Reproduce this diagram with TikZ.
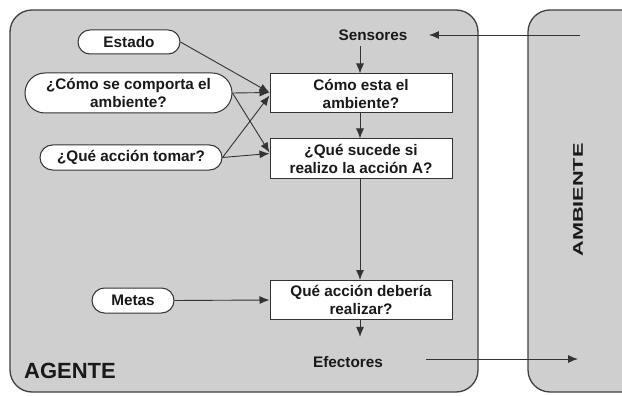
\documentclass[tikz,border=0pt]{standalone}
\usepackage{fontspec}
\setmainfont{Liberation Sans}
\usetikzlibrary{arrows.meta,shapes.misc}
\begin{document}
\begin{tikzpicture}[x=1pt,y=-1pt,
  panel/.style={draw=black!75, line width=1.3pt, fill=black!19, rounded corners=22pt},
  txt/.style={font=\bfseries\fontsize{15.3}{18}\selectfont, text=black!90},
  procbox/.style={txt, draw=black!80, line width=1pt, fill=white, minimum width=182pt, minimum height=39pt, inner sep=0pt, align=center},
  oval/.style={txt, rounded rectangle, draw=black!80, line width=1pt, fill=white, inner sep=0pt, align=center},
  conn/.style={draw=black!80, line width=0.9pt, -{Latex[length=10pt,width=8pt]}},
]
\useasboundingbox (0,0) rectangle (622,396);
\clip (0,0) rectangle (622,396);
\fill[white] (0,0) rectangle (622,396);
\draw[panel] (10,10) rectangle (478,392);
\draw[panel] (528,10) rectangle (680,392);

\node[font=\bfseries\fontsize{22}{24}\selectfont, text=black!90] (agente) at (70,371) {AGENTE};
\node[font=\bfseries\fontsize{14}{16}\selectfont, text=black!90, rotate=90] (amb) at (578,200) {\scalebox{1.55}[1]{AMBIENTE}};

\node[txt] (sens) at (373,35) {Sensores};
\node[procbox] (box1) at (361,93.5) {Cómo esta el\\ambiente?};
\node[procbox] (box2) at (361,158.5) {¿Qué sucede si\\realizo la acción A?};
\node[procbox] (box3) at (361,300) {Qué acción debería\\realizar?};
\node[txt] (eff) at (348,362) {Efectores};

\node[oval, minimum width=102pt, minimum height=24pt] (estado) at (129,42) {Estado};
\node[oval, minimum width=207pt, minimum height=40pt] (comp) at (128.5,93) {¿Cómo se comporta el\\ambiente?};
\node[oval, minimum width=182pt, minimum height=25pt] (tomar) at (131,157.5) {¿Qué acción tomar?};
\node[oval, minimum width=82pt, minimum height=25pt] (metas) at (133,300.5) {Metas};

\coordinate (senIn) at (580,35);
\coordinate (effOut) at (578,359);
\coordinate (topB1) at (360,46);

\draw[conn, shorten >=18pt] (senIn) -- (sens);
\draw[conn] (topB1) -- (box1.north -| topB1);
\draw[conn] (box1.south -| topB1) -- (box2.north -| topB1);
\draw[conn] (box2.south -| topB1) -- (box3.north -| topB1);
\draw[conn, shorten >=16pt] (box3.south -| topB1) -- (eff.north -| topB1);
\draw[conn] (eff.east |- effOut) ++(40,0) -- (effOut);

\draw[conn] (estado.east) -- ([yshift=1pt]box1.west);
\draw[conn] (comp.east) -- ([yshift=1pt]box1.west);
\draw[conn] (tomar.east) -- ([yshift=-2pt]box1.west);
\draw[conn] (comp.east) -- ([yshift=6pt]box2.west);
\draw[conn] (tomar.east) -- ([yshift=5pt]box2.west);
\draw[conn] (metas.east) -- (box3.west);
\end{tikzpicture}
\end{document}
